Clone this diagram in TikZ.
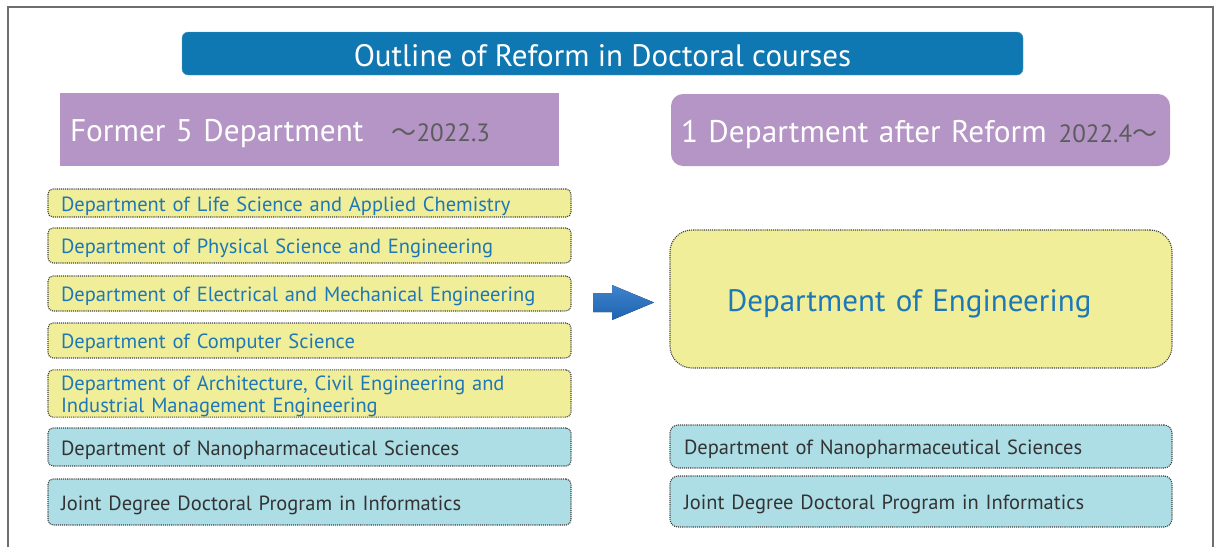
\documentclass[tikz,border=0pt]{standalone}
\usepackage{fontspec}
\setmainfont{PT Sans}
\newfontfamily\cjk{Noto Sans CJK JP}

\definecolor{titleblue}{HTML}{0F77B1}
\definecolor{headpurple}{HTML}{B495C5}
\definecolor{deptyellow}{HTML}{F0EE99}
\definecolor{deptcyan}{HTML}{ADDDE5}
\definecolor{deptblue}{HTML}{1E78B8}
\definecolor{arrowtop}{HTML}{4283CC}
\definecolor{arrowbot}{HTML}{1B63B0}
\definecolor{datagray}{HTML}{5C5C5C}
\definecolor{frameline}{HTML}{6E6E6E}

\newcommand\datetextfont{\color{datagray}\fontsize{25}{28}\selectfont}

\tikzset{
  textdrop/.style={execute at begin node={\rule{0pt}{#1}}},
  oldbox/.style={draw=black!75, densely dotted, line width=1.1pt, rounded corners=5pt,
    minimum width=523pt, text width=497pt, inner xsep=13pt, inner ysep=0pt, align=left,
    font=\fontsize{20.5}{22}\selectfont, textdrop=21pt},
  newbox/.style={oldbox, minimum width=502pt, text width=474pt, inner xsep=14pt},
  yellowbox/.style={fill=deptyellow, text=deptblue},
  cyanbox/.style={fill=deptcyan, text=black!80},
  headbox/.style={fill=headpurple, text=white, minimum width=499pt, text width=479pt,
    inner xsep=10pt, align=left, font=\fontsize{31.3}{34}\selectfont, textdrop=30.5pt}
}

\begin{document}
\begin{tikzpicture}[x=1pt, y=-1pt]
    \useasboundingbox (0,0) rectangle (1216,547);
    % outer frame, open at the bottom
    \coordinate (fbl) at (8,547);
    \coordinate (ftl) at (8,7);
    \coordinate (ftr) at (1213,7);
    \coordinate (fbr) at (1213,547);
    \draw[frameline, line width=1.2pt] (fbl) -- (ftl) -- (ftr) -- (fbr);

    \node[fill=titleblue, draw=titleblue!70!white, rounded corners=6pt, minimum width=841pt, minimum height=43pt,
      text=white, font=\fontsize{31}{34}\selectfont, textdrop=26.3pt] (title) at (602.5,53.5) {Outline of Reform in Doctoral courses};

    \node[headbox, minimum height=73pt] (former) at (309.5,129.5)
      {Former 5 Department\hspace{28pt}{\datetextfont\cjk ～}{\datetextfont 2022.3}};
    \node[headbox, minimum height=72pt, rounded corners=12pt, text width=485pt, inner xsep=7pt] (after) at (920.5,130)
      {\hspace{3pt}1 Department after Reform\hspace{12pt}{\datetextfont 2022.4}{\datetextfont\cjk ～}};

    \node[oldbox, yellowbox, minimum height=28pt] (life) at (309.5,203) {Department of Life Science and Applied Chemistry};
    \node[oldbox, yellowbox, minimum height=35pt] (phys) at (309.5,245.5) {Department of Physical Science and Engineering};
    \node[oldbox, yellowbox, minimum height=35pt] (elec) at (309.5,293.5) {Department of Electrical and Mechanical Engineering};
    \node[oldbox, yellowbox, minimum height=35pt] (comp) at (309.5,340.5) {Department of Computer Science};
    \node[oldbox, yellowbox, minimum height=45pt] (arch) at (309.5,393.5) {Department of Architecture, Civil Engineering and\\Industrial Management Engineering};
    \node[oldbox, cyanbox, minimum height=38pt] (nanoold) at (309.5,447) {Department of Nanopharmaceutical Sciences};
    \node[oldbox, cyanbox, minimum height=46pt] (jointold) at (309.5,502) {Joint Degree Doctoral Program in Informatics};

    % block arrow between the two columns
    \coordinate (arrowtail) at (593,302.5);
    \fill[top color=arrowtop, bottom color=arrowbot] (arrowtail) ++(0,-9.5) -- ++(19,0) -- ++(0,-8)
      -- ++(42,17.5) -- ++(-42,17.5) -- ++(0,-8) -- ++(-19,0) -- cycle;

    \node[newbox, yellowbox, minimum height=138pt, rounded corners=22pt, text width=388pt, inner xsep=57pt,
      font=\fontsize{31}{34}\selectfont, textdrop=32.3pt] (eng) at (921,299) {Department of Engineering};
    \node[newbox, cyanbox, minimum height=43pt, rounded corners=8pt] (nanonew) at (921,446.5) {Department of Nanopharmaceutical Sciences};
    \node[newbox, cyanbox, minimum height=51pt, rounded corners=8pt] (jointnew) at (921,501.5) {Joint Degree Doctoral Program in Informatics};
\end{tikzpicture}
\end{document}
